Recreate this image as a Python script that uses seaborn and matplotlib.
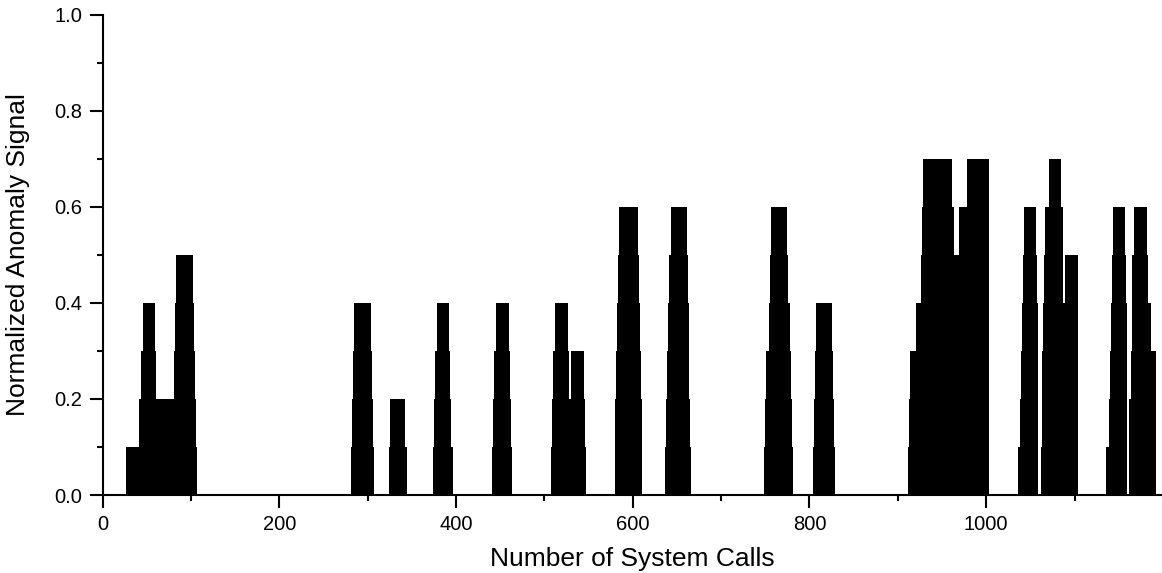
import numpy as np
import pandas as pd
import matplotlib
matplotlib.use("Agg")
from matplotlib import pyplot as plt
from matplotlib.ticker import MultipleLocator
import seaborn as sns

# each burst: step edges (system call index) and the signal level on each step
burst_edges = [
    [26.0, 41.5, 43.4, 45.3, 58.9, 60.0, 81.1, 82.2, 83.3, 102.6, 103.4, 104.5, 105.6, 107.0],
    [281.4, 282.6, 283.7, 284.8, 303.8, 304.9, 306.0, 307.1],
    [323.8, 325.3, 342.6, 344.2],
    [373.6, 374.7, 376.2, 378.1, 392.4, 393.5, 394.7, 396.9],
    [440.7, 441.9, 442.7, 444.9, 459.6, 460.8, 461.9, 463.7],
    [507.2, 509.0, 510.2, 512.1, 527.1, 528.2, 530.2, 544.9, 546.0, 547.1],
    [579.6, 580.3, 581.5, 582.6, 583.7, 584.9, 605.7, 606.8, 607.9, 609.1, 610.2, 610.9],
    [636.9, 638.1, 639.2, 640.3, 641.5, 643.0, 661.1, 662.3, 663.4, 664.1, 665.2, 666.0],
    [749.0, 750.1, 751.0, 754.0, 755.1, 756.3, 775.1, 776.2, 777.8, 779.6, 780.7, 781.8],
    [803.8, 805.0, 806.1, 807.2, 826.0, 827.1, 828.3, 829.4],
    [911.7, 912.8, 914.3, 920.7, 926.7, 927.9, 929.0, 961.5, 963.0, 969.1, 978.2, 1003.4],
    [1035.9, 1038.1, 1039.6, 1040.7, 1041.9, 1043.0, 1056.3, 1057.4, 1058.1, 1058.5],
    [1061.5, 1063.0, 1063.7, 1064.5, 1065.6, 1066.8, 1071.0, 1084.2, 1086.4, 1089.4, 1103.4],
    [1135.9, 1138.5, 1139.6, 1141.2, 1142.3, 1143.0, 1156.6, 1158.2, 1158.9],
    [1161.5, 1162.2, 1163.4, 1164.5, 1165.6, 1166.8, 1181.5, 1183.1, 1187.1, 1192.1],
]
burst_levels = [
    [0.1, 0.2, 0.3, 0.4, 0.3, 0.2, 0.3, 0.4, 0.5, 0.4, 0.3, 0.2, 0.1],
    [0.1, 0.2, 0.3, 0.4, 0.3, 0.2, 0.1],
    [0.1, 0.2, 0.1],
    [0.1, 0.2, 0.3, 0.4, 0.3, 0.2, 0.1],
    [0.1, 0.2, 0.3, 0.4, 0.3, 0.2, 0.1],
    [0.1, 0.2, 0.3, 0.4, 0.3, 0.2, 0.3, 0.2, 0.1],
    [0.1, 0.2, 0.3, 0.4, 0.5, 0.6, 0.5, 0.4, 0.3, 0.2, 0.1],
    [0.1, 0.2, 0.3, 0.4, 0.5, 0.6, 0.5, 0.4, 0.3, 0.2, 0.1],
    [0.1, 0.2, 0.3, 0.4, 0.5, 0.6, 0.5, 0.4, 0.3, 0.2, 0.1],
    [0.1, 0.2, 0.3, 0.4, 0.3, 0.2, 0.1],
    [0.1, 0.2, 0.3, 0.4, 0.5, 0.6, 0.7, 0.6, 0.5, 0.6, 0.7],
    [0.1, 0.2, 0.3, 0.4, 0.5, 0.6, 0.5, 0.4, 0.3],
    [0.1, 0.2, 0.3, 0.4, 0.5, 0.6, 0.7, 0.6, 0.4, 0.5],
    [0.1, 0.2, 0.3, 0.4, 0.5, 0.6, 0.5, 0.4],
    [0.1, 0.2, 0.3, 0.4, 0.5, 0.6, 0.5, 0.4, 0.3],
]
x_ticks = [0, 200, 400, 600, 800, 1000]
y_ticks = [0.0, 0.2, 0.4, 0.6, 0.8, 1.0]

# join bursts into one step series, quiet stretches in between are zero
edges, weights = [], []
for e, v in zip(burst_edges, burst_levels):
    if edges:
        weights.append(0.0)
    edges += e
    weights += v
df = pd.DataFrame({"call": edges[:-1], "signal": weights})

sns.set_style("ticks")
plt.rcParams['font.family'] = ['Liberation Sans', 'DejaVu Sans']
plt.rcParams['text.color'] = 'black'
plt.rcParams['axes.labelcolor'] = 'black'

fig = plt.figure(figsize=(11.62, 5.73), dpi=100)
ax = fig.add_axes([0.0884, 0.1361, 0.9116, 0.8382])

sns.histplot(data=df, x="call", weights="signal", bins=edges, element="step",
             fill=True, color="black", alpha=1, linewidth=0, ax=ax)

ax.set_xlim(0, 1199)
ax.set_ylim(0, 1.0)
ax.set_xticks(x_ticks)
ax.set_yticks(y_ticks)
ax.set_yticklabels([f"{t:.1f}" for t in y_ticks])
ax.xaxis.set_minor_locator(MultipleLocator(100))
ax.yaxis.set_minor_locator(MultipleLocator(0.1))
ax.tick_params(which="major", direction="out", length=9.5, width=1.5,
               labelsize=14.5, pad=5, color="black", labelcolor="black")
ax.tick_params(which="minor", direction="out", length=4.5, width=1.5, color="black")
sns.despine(ax=ax)
for s in ["left", "bottom"]:
    ax.spines[s].set_linewidth(1.5)
    ax.spines[s].set_color("black")

ax.set_xlabel("Number of System Calls", fontsize=19, labelpad=9, color="black")
ax.set_ylabel("Normalized Anomaly Signal", fontsize=19, labelpad=18, color="black")

fig.savefig("out.png", dpi=100)
